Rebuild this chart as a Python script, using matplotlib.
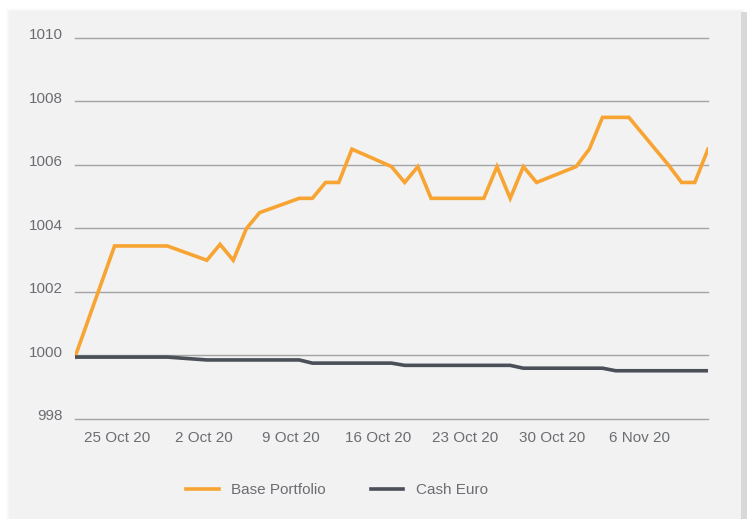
import matplotlib
matplotlib.use("Agg")
import matplotlib.pyplot as plt
import matplotlib.transforms as mtransforms
from matplotlib.patches import Rectangle

# trading days (offset in calendar days from first point)
days = [0, 3, 4, 5, 6, 7, 10, 11, 12, 13, 14, 17, 18, 19, 20, 21,
        24, 25, 26, 27, 28, 31, 32, 33, 34, 35, 38, 39, 40, 41, 42,
        45, 46, 47, 48]
base_portfolio = [999.95, 1003.45, 1003.45, 1003.45, 1003.45, 1003.45,
                  1003.0, 1003.5, 1003.0, 1004.0, 1004.5,
                  1004.95, 1004.95, 1005.45, 1005.45, 1006.5,
                  1005.95, 1005.45, 1005.95, 1004.95, 1004.95,
                  1004.95, 1005.95, 1004.95, 1005.95, 1005.45,
                  1005.95, 1006.5, 1007.5, 1007.5, 1007.5,
                  1006.0, 1005.45, 1005.45, 1006.5]
cash_euro = [999.95, 999.95, 999.95, 999.95, 999.95, 999.95,
             999.86, 999.86, 999.86, 999.86, 999.86,
             999.86, 999.76, 999.76, 999.76, 999.76,
             999.76, 999.69, 999.69, 999.69, 999.69,
             999.69, 999.69, 999.69, 999.60, 999.60,
             999.60, 999.60, 999.60, 999.52, 999.52,
             999.52, 999.52, 999.52, 999.52]
tick_labels = ['25 Oct 20', '2 Oct 20', '9 Oct 20', '16 Oct 20',
               '23 Oct 20', '30 Oct 20', '6 Nov 20']
y_ticks = [998, 1000, 1002, 1004, 1006, 1008, 1010]

orange = '#f8a433'
dark = '#4a4f58'
text_col = '#6b6d72'

plt.rcParams['font.family'] = ['Liberation Sans', 'DejaVu Sans']

fig = plt.figure(figsize=(7.47, 5.19), dpi=100)
fig.patch.set_facecolor('white')

# card background with soft shadow
W, H = 747, 519
for i, a in enumerate([0.006, 0.01, 0.014, 0.02]):
    d = 4 - i
    fig.patches.append(Rectangle(((10 - d) / W, 0), (731 + 2 * d) / W, (507 + d) / H,
                                 transform=fig.transFigure, facecolor='black',
                                 alpha=a, edgecolor='none', zorder=0))
fig.patches.append(Rectangle((741 / W, 0), 6 / W, 507 / H, transform=fig.transFigure,
                             facecolor='#d8d8d8', edgecolor='none', zorder=0.5))
fig.patches.append(Rectangle((10 / W, 0), 731 / W, 507 / H, transform=fig.transFigure,
                             facecolor='#f2f2f2', edgecolor='none', zorder=1))

ax = fig.add_axes([75 / W, 1 - 419 / H, 633 / W, 381 / H])
ax.set_facecolor('none')
ax.set_zorder(2)

ax.plot(days, base_portfolio, color=orange, lw=2.6, solid_joinstyle='miter',
        label='Base Portfolio', zorder=3)
ax.plot(days, cash_euro, color=dark, lw=2.6, label='Cash Euro', zorder=3)

ax.set_xlim(0, 48)
ax.set_ylim(998, 1010)
ax.set_yticks(y_ticks)
ax.set_xticks([3.2 + 6.6 * i for i in range(len(tick_labels))])
ax.set_xticklabels(tick_labels)
ax.yaxis.grid(True, color='#a3a3a3', lw=1)
for gl in ax.get_ygridlines():
    gl.set_clip_on(False)
ax.set_axisbelow(True)
for s in ax.spines.values():
    s.set_visible(False)
ax.tick_params(axis='both', length=0, labelsize=11, colors=text_col)
ax.tick_params(axis='x', pad=9)
ax.tick_params(axis='y', pad=9)

shift = mtransforms.ScaledTranslation(0, 4 / 100, fig.dpi_scale_trans)
for lab in ax.get_yticklabels():
    lab.set_transform(lab.get_transform() + shift)

leg = fig.legend(loc='center', bbox_to_anchor=(337 / W, 1 - 490 / H), ncol=2,
                 frameon=False, fontsize=11, handlelength=2.1, handletextpad=0.8,
                 columnspacing=3.0)
for t in leg.get_texts():
    t.set_color(text_col)

fig.savefig('out.png', dpi=100, facecolor='white')
